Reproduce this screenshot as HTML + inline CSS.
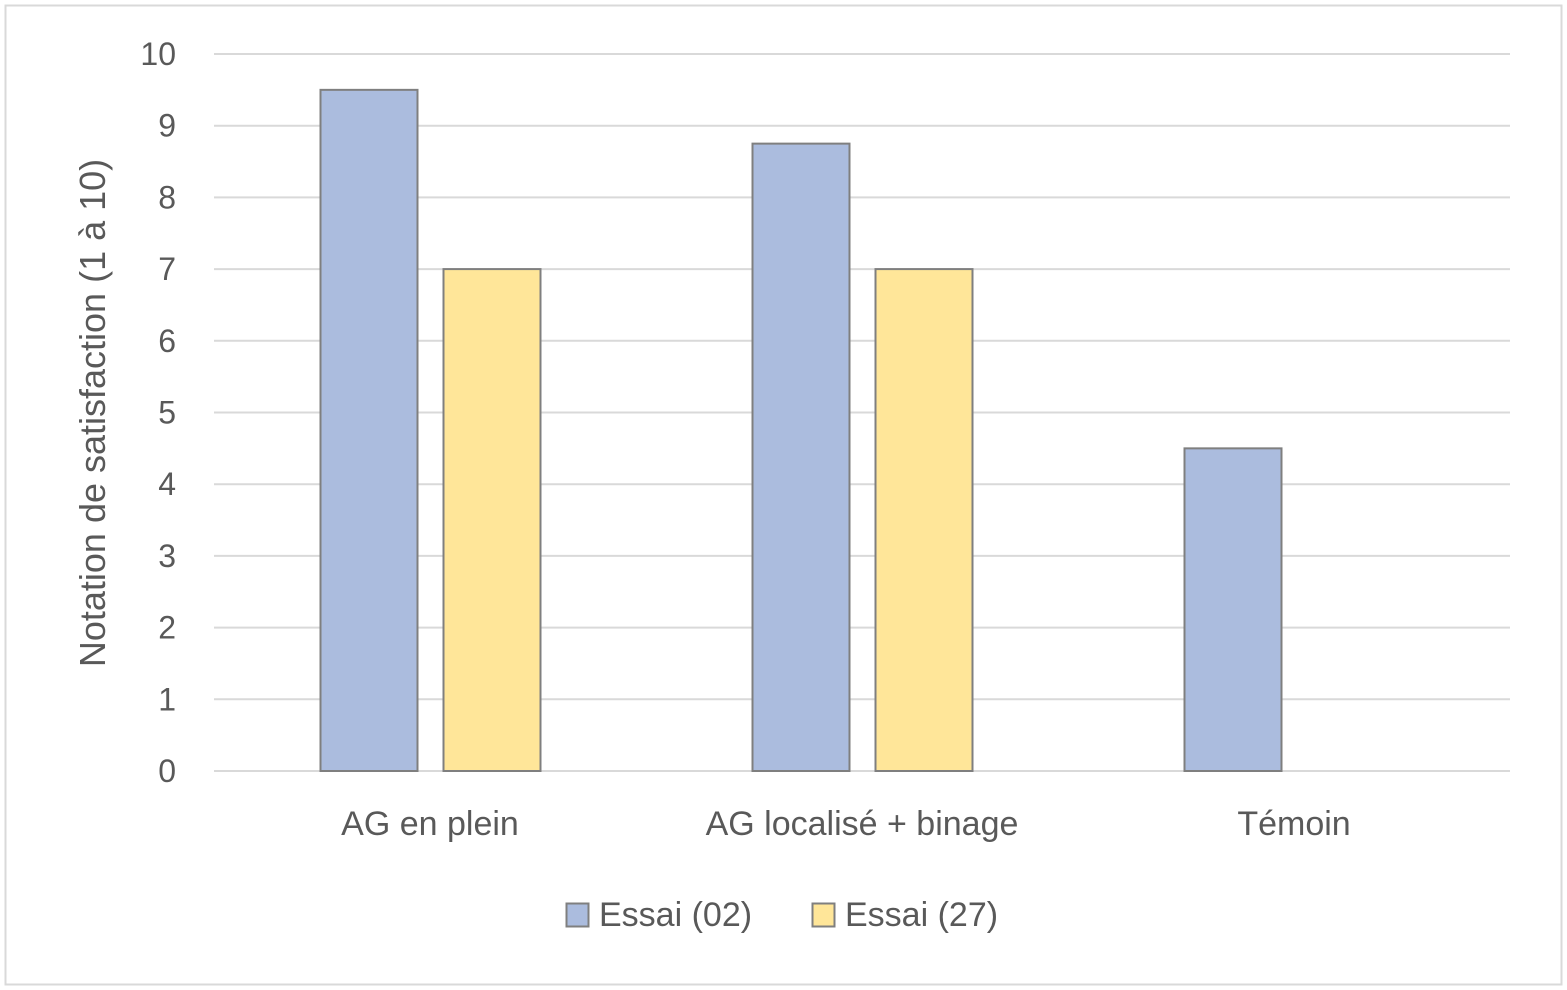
<!DOCTYPE html>
<html><head><meta charset="utf-8"><style>
html,body{margin:0;padding:0;background:#fff;}
svg{display:block;font-family:"Liberation Sans",sans-serif;}
</style></head><body>
<svg id="chart" width="1567" height="990" viewBox="0 0 1567 990">
<rect x="5.5" y="5.5" width="1556" height="979" fill="#fff" stroke="#d9d9d9" stroke-width="2"/>
<g id="grid"></g>
<g id="bars"></g>
<g id="labels"></g>
<text x="105" y="413" transform="rotate(-90 105 413)" text-anchor="middle" font-size="36" fill="#595959">Notation de satisfaction (1 à 10)</text>
<g>
<rect x="566.5" y="903.5" width="22" height="23" fill="#abbcde" stroke="#7f7f7f" stroke-width="2"/>
<text x="599" y="926" font-size="34" fill="#595959">Essai (02)</text>
<rect x="812.5" y="903.5" width="22" height="23" fill="#ffe699" stroke="#7f7f7f" stroke-width="2"/>
<text x="845" y="926" font-size="34" fill="#595959">Essai (27)</text>
</g>
</svg>
<script>
const categories = ["AG en plein", "AG localisé + binage", "Témoin"];
const series02 = [9.5, 8.75, 4.5];
const series27 = [7, 7, null];
const yTicks = [0,1,2,3,4,5,6,7,8,9,10];

const NS = "http://www.w3.org/2000/svg";
const x0 = 214, x1 = 1510, y0 = 771, y10 = 54;
const yMax = 10;
function y(v){ return y0 - (v / yMax) * (y0 - y10); }
const band = (x1 - x0) / categories.length;
function xCenter(i){ return x0 + band * (i + 0.5); }
const barW = 97, gap = 26;

function mk(tag, attrs, parent){
  const e = document.createElementNS(NS, tag);
  for (const k in attrs) e.setAttribute(k, attrs[k]);
  parent.appendChild(e); return e;
}
const grid = document.getElementById("grid");
const bars = document.getElementById("bars");
const labels = document.getElementById("labels");

yTicks.forEach(t => {
  const l = mk("line", {x1:x0, x2:x1, y1:y(t), y2:y(t), stroke:"#d9d9d9", "stroke-width":2}, grid);
  
  
  const tx = mk("text", {x:176, y:y(t)+11, "text-anchor":"end", "font-size":32, fill:"#595959"}, labels);
  tx.textContent = t;
  
  
});

categories.forEach((c, i) => {
  const cx = xCenter(i);
  const v1 = series02[i], v2 = series27[i];
  if (v1 != null) {
    const r = mk("rect", {x:cx - gap/2 - barW + 0.5, y:y(v1), width:barW, height:y(0)-y(v1), fill:"#abbcde", stroke:"#7f7f7f", "stroke-width":2}, bars);
    
    
  }
  if (v2 != null) {
    const r = mk("rect", {x:cx + gap/2 + 0.5, y:y(v2), width:barW, height:y(0)-y(v2), fill:"#ffe699", stroke:"#7f7f7f", "stroke-width":2}, bars);
    
    
  }
  const tx = mk("text", {x:cx, y:835, "text-anchor":"middle", "font-size":34, fill:"#595959"}, labels);
  tx.textContent = c;
  
  
});
</script>
</body></html>
